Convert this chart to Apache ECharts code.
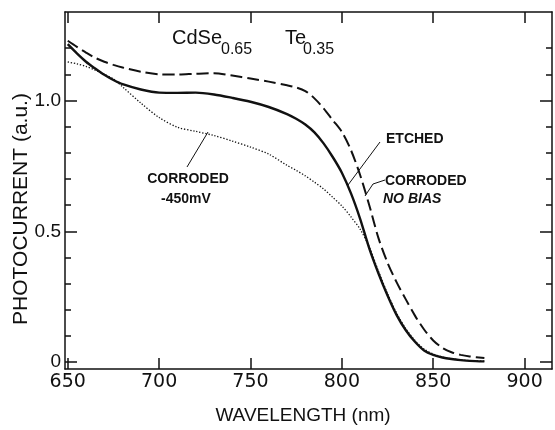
<!DOCTYPE html>
<html><head><meta charset="utf-8">
<script src="https://cdn.jsdelivr.net/npm/echarts@6/dist/echarts.min.js"></script>
<style>html,body{margin:0;padding:0;background:#fff}#c{width:555px;height:430px}</style>
</head><body><div id="c"></div>
<script>
// Wavelength (nm) sample points
const wavelength = [650,655,660,665,670,675,680,690,700,710,720,730,740,750,760,770,775,780,785,790,795,800,805,810,815,820,825,830,835,840,845,850,855,860,865,870,878];
// Photocurrent (a.u.)
const etched = [1.215,1.180,1.148,1.122,1.098,1.078,1.062,1.042,1.030,1.029,1.030,1.023,1.010,0.995,0.975,0.948,0.930,0.908,0.878,0.836,0.784,0.724,0.645,0.548,0.435,0.340,0.255,0.180,0.122,0.078,0.045,0.028,0.018,0.012,0.008,0.005,0.003];
const corrodedNoBias = [1.228,1.205,1.183,1.163,1.148,1.136,1.126,1.110,1.100,1.099,1.102,1.104,1.095,1.084,1.072,1.058,1.050,1.036,1.008,0.970,0.925,0.880,0.810,0.715,0.600,0.475,0.380,0.305,0.240,0.178,0.125,0.083,0.055,0.038,0.028,0.022,0.016];
const corroded450 = [1.147,1.140,1.130,1.116,1.100,1.082,1.052,0.990,0.935,0.898,0.882,0.866,0.845,0.822,0.795,0.752,0.733,0.712,0.688,0.662,0.630,0.597,0.555,0.508,0.440,0.348,0.262,0.187,0.128,0.083,0.050,0.031,0.020,0.013,0.009,0.006,0.004];

const xTicks = [650,700,750,800,850,900];
const yMajorTicks = [0,0.5,1.0];
const yMinorTicks = [0.1,0.2,0.3,0.4,0.6,0.7,0.8,0.9,1.1,1.2];
const yLabels = [0,0.5,1.0];

const pairs = arr => wavelength.map((w,i)=>[w,arr[i]]);
const INK = '#111';
const XMIN = 648.5, XMAX = 915, YMIN = -0.026, YMAX = 1.338;

const chart = echarts.init(document.getElementById('c'), null, {renderer:'canvas'});

function yAx(pos, ticks, len, showLabel, showLine){
  return {
    type:'value', position:pos, min:YMIN, max:YMAX, offset:0,
    splitLine:{show:false},
    axisLine:{show:showLine, lineStyle:{color:INK, width:1.5}},
    axisTick:{show:true, inside:true, length:len, customValues:ticks, lineStyle:{color:INK, width:1.5}},
    axisLabel:{show:showLabel, customValues:yLabels, margin:4, color:INK,
      fontFamily:'Liberation Sans', fontSize:19,
      formatter:v=> v===0 ? '0' : v.toFixed(1)}
  };
}
function xAx(pos, showLabel){
  return {
    type:'value', position:pos, min:XMIN, max:XMAX,
    splitLine:{show:false},
    axisLine:{show:true, onZero:false, lineStyle:{color:INK, width:1.5}},
    axisTick:{show:true, inside:true, length:11, customValues:xTicks, lineStyle:{color:INK, width:1.5}},
    axisLabel:{show:showLabel, customValues:xTicks, margin:4, color:INK,
      fontFamily:'DejaVu Sans', fontSize:19}
  };
}

const lbl = (text, x, y, font, align) => ({type:'text', x, y, silent:true,
  style:{text, font, fill:INK, textAlign:align||'left', textVerticalAlign:'middle'}});
const ln = pts => ({type:'polyline', silent:true, shape:{points:pts}, style:{stroke:INK, lineWidth:1, fill:null}});

const F_ANN = 'bold 14px "Liberation Sans"';
const F_MAIN = '20px "Liberation Sans"';
const F_SUB = '16px "Liberation Sans"';

chart.setOption({
  animation:false,
  backgroundColor:'#fff',
  grid:{left:65, right:3, top:12, bottom:61, containLabel:false},
  xAxis:[xAx('bottom', true), xAx('top', false)],
  yAxis:[
    yAx('left', yMajorTicks, 12, true, true),
    yAx('left', yMinorTicks, 6, false, false),
    yAx('right', yMajorTicks, 12, false, true),
    yAx('right', yMinorTicks, 6, false, false)
  ],
  series:[
    {name:'CORRODED NO BIAS', type:'line', xAxisIndex:0, yAxisIndex:0, data:pairs(corrodedNoBias),
      showSymbol:false, smooth:0.3, lineStyle:{color:INK, width:2, type:[12,5]}},
    {name:'ETCHED', type:'line', xAxisIndex:0, yAxisIndex:0, data:pairs(etched),
      showSymbol:false, smooth:0.3, lineStyle:{color:INK, width:2.4, type:'solid'}},
    {name:'CORRODED -450mV', type:'line', xAxisIndex:0, yAxisIndex:0, data:pairs(corroded450),
      showSymbol:false, smooth:0.3, lineStyle:{color:INK, width:1.3, type:[1.3,1.8]}}
  ],
  graphic:[
    lbl('CdSe', 172, 38, F_MAIN),
    lbl('0.65', 221, 50, F_SUB),
    lbl('Te', 285, 38, F_MAIN),
    lbl('0.35', 303, 50, F_SUB),
    lbl('CORRODED', 188, 179, F_ANN, 'center'),
    lbl('-450mV', 186, 199, F_ANN, 'center'),
    ln([[187,167],[208,132]]),
    lbl('ETCHED', 386, 139, F_ANN),
    ln([[380,142],[348,185]]),
    lbl('CORRODED', 385, 181, F_ANN),
    lbl('NO BIAS', 383, 199, 'italic bold 14px "Liberation Sans"'),
    ln([[385,180],[373,184],[365,196]]),
    lbl('WAVELENGTH (nm)', 303, 416, '19px "Liberation Sans"', 'center'),
    {type:'text', x:21, y:209, rotation:Math.PI/2, silent:true,
      style:{text:'PHOTOCURRENT (a.u.)', font:'21px "Liberation Sans"', fill:INK, textAlign:'center', textVerticalAlign:'middle'}}
  ]
});
</script></body></html>
